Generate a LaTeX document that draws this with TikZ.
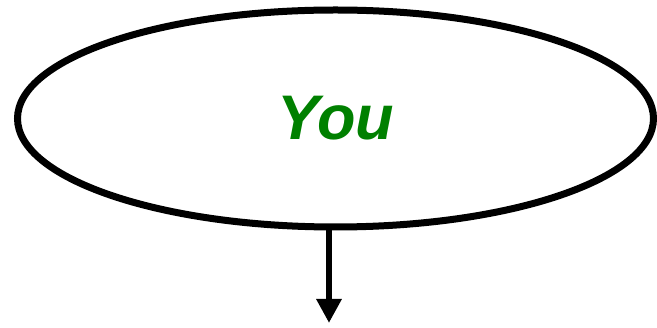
\documentclass[tikz,border=0pt]{standalone}
\usepackage{fontspec}
\setmainfont{Liberation Sans}
\usetikzlibrary{shapes.geometric,arrows.meta}
\definecolor{yougreen}{HTML}{008000}
\tikzset{
  bigell/.style={draw=black, line width=7pt, shape=ellipse, minimum width=636pt, minimum height=217pt, inner sep=0pt},
  conn/.style={line width=6.5pt, -{Triangle[length=24pt,width=24pt]}},
  lbl/.style={text=yougreen, font=\fontsize{63}{72}\selectfont\bfseries\itshape}
}
\begin{document}
\begin{tikzpicture}[x=1pt,y=-1pt]
\useasboundingbox (0,0) rectangle (657,328);
\node[bigell] (e) at (335.5,118.5) {};
\node[lbl, anchor=base] (t) at (336,140) {You};
\coordinate (end) at (329,323);
\draw[conn] (e.south -| end) -- (end);
\end{tikzpicture}
\end{document}
